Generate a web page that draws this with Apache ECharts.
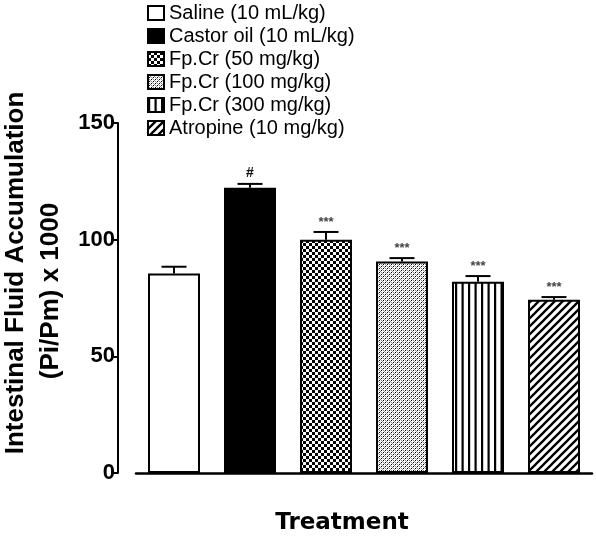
<!DOCTYPE html>
<html>
<head>
<meta charset="utf-8">
<script src="https://cdn.jsdelivr.net/npm/echarts@6/dist/echarts.min.js"></script>
<style>
html,body{margin:0;padding:0;background:#fff;}
#chart{width:596px;height:536px;}
</style>
</head>
<body>
<div id="chart"></div>
<script>
// ---- data ----
var categories = ['Saline (10 mL/kg)', 'Castor oil (10 mL/kg)', 'Fp.Cr (50 mg/kg)', 'Fp.Cr (100 mg/kg)', 'Fp.Cr (300 mg/kg)', 'Atropine (10 mg/kg)'];
var means = [85.5, 122.3, 100.0, 90.6, 82.0, 74.3];
var sems = [2.9, 1.6, 3.3, 1.5, 2.4, 1.1];
var sigMarks = ['', '#', '***', '***', '***', '***'];
var yTicks = [0, 50, 100, 150];

// ---- patterns ----
function makeTile(w, h, draw) {
  var c = document.createElement('canvas');
  c.width = w; c.height = h;
  var ctx = c.getContext('2d');
  ctx.fillStyle = '#fff';
  ctx.fillRect(0, 0, w, h);
  ctx.fillStyle = '#000';
  ctx.strokeStyle = '#000';
  draw(ctx, w, h);
  return { image: c, repeat: 'repeat' };
}
var patChecker = makeTile(6, 6, function (ctx) {
  ctx.fillRect(0, 0, 3, 3);
  ctx.fillRect(3, 3, 3, 3);
});
var patFine = makeTile(4, 4, function (ctx) {
  for (var y = 0; y < 4; y++) {
    ctx.fillStyle = '#000';
    ctx.fillRect((3 - y + 4) % 4, y, 1, 1);
    ctx.fillStyle = '#8a8a8a';
    ctx.fillRect((y + 1) % 4, y, 1, 1);
  }
});
var patVert = makeTile(13, 4, function (ctx) {
  ctx.fillRect(0, 0, 2.2, 4);
  ctx.fillRect(6.5, 0, 2.2, 4);
});
var patDiag = makeTile(8, 8, function (ctx) {
  ctx.lineWidth = 2.3;
  ctx.beginPath();
  ctx.moveTo(-2, 10); ctx.lineTo(10, -2);
  ctx.moveTo(-2, 2); ctx.lineTo(2, -2);
  ctx.moveTo(6, 10); ctx.lineTo(10, 6);
  ctx.stroke();
});
var fills = ['#ffffff', '#000000', patChecker, patFine, patVert, patDiag];

var chart = echarts.init(document.getElementById('chart'), null, { renderer: 'canvas' });

var series = categories.map(function (name, i) {
  var d = categories.map(function (_, j) { return j === i ? means[i] : '-'; });
  return {
    name: name,
    type: 'bar',
    stack: 'all',
    barWidth: 52,
    data: d,
    itemStyle: { color: fills[i], borderColor: '#000', borderWidth: 2 },
    emphasis: { disabled: true },
    z: 2
  };
});

series.push({
  type: 'custom',
  name: 'err',
  z: 5,
  data: means.map(function (m, i) { return [i, m, m + sems[i], sigMarks[i]]; }),
  encode: { x: 0, y: 2 },
  renderItem: function (params, api) {
    var i = api.value(0);
    var top = api.coord([i, api.value(1)]);
    var hi = api.coord([i, api.value(2)]);
    var half = 12.5;
    var mark = sigMarks[i];
    var children = [
      { type: 'line', shape: { x1: top[0], y1: top[1], x2: hi[0], y2: hi[1] }, style: { stroke: '#000', lineWidth: 2 } },
      { type: 'line', shape: { x1: hi[0] - half, y1: hi[1], x2: hi[0] + half, y2: hi[1] }, style: { stroke: '#000', lineWidth: 2 } }
    ];
    if (mark) {
      children.push({
        type: 'text',
        style: {
          text: mark,
          x: hi[0],
          y: hi[1] - (mark === '#' ? 4 : 3),
          align: 'center',
          verticalAlign: 'bottom',
          fill: mark === '#' ? '#111' : '#444',
          font: (mark === '#' ? 'bold 14px' : 'bold 13px') + ' "Liberation Sans", Arial, sans-serif'
        }
      });
    }
    return { type: 'group', children: children };
  }
});

chart.setOption({
  animation: false,
  backgroundColor: '#fff',
  grid: { left: 136, right: 4, top: 123, bottom: 63, containLabel: false },
  legend: {
    data: categories,
    orient: 'vertical',
    left: 142,
    top: -3,
    itemWidth: 16,
    itemHeight: 14,
    itemGap: 1,
    icon: 'rect',
    selectedMode: false,
    textStyle: { fontFamily: '"Liberation Sans", Arial, sans-serif', fontSize: 20, color: '#000', lineHeight: 22 }
  },
  xAxis: {
    type: 'category',
    data: categories,
    offset: 19,
    axisLine: { show: true, lineStyle: { color: '#000', width: 2.5 } },
    axisTick: { show: false },
    axisLabel: { show: false },
    splitLine: { show: false }
  },
  yAxis: {
    type: 'value',
    min: yTicks[0],
    max: yTicks[yTicks.length - 1],
    interval: yTicks[1] - yTicks[0],
    offset: 18,
    axisLine: { show: true, lineStyle: { color: '#000', width: 2 } },
    axisTick: { show: true, length: 5, lineStyle: { color: '#000', width: 2 } },
    axisLabel: { margin: 3, color: '#000', fontWeight: 'bold', fontSize: 22, fontFamily: '"Liberation Sans", Arial, sans-serif' },
    splitLine: { show: false }
  },
  graphic: [
    {
      type: 'text', x: 16, y: 273, rotation: Math.PI / 2,
      style: { text: 'Intestinal Fluid Accumulation', align: 'center', verticalAlign: 'middle', fill: '#000',
        font: 'bold 26px "Liberation Sans", Arial, sans-serif' }
    },
    {
      type: 'text', x: 51, y: 291, rotation: Math.PI / 2,
      style: { text: '(Pi/Pm) x 1000', align: 'center', verticalAlign: 'middle', fill: '#000',
        font: 'bold 26px "Liberation Sans", Arial, sans-serif' }
    },
    {
      type: 'text', x: 342, y: 523,
      style: { text: 'Treatment', align: 'center', verticalAlign: 'middle', fill: '#000',
        font: 'bold 23px "DejaVu Sans", Verdana, sans-serif' }
    }
  ],
  series: series
});
</script>
</body>
</html>
